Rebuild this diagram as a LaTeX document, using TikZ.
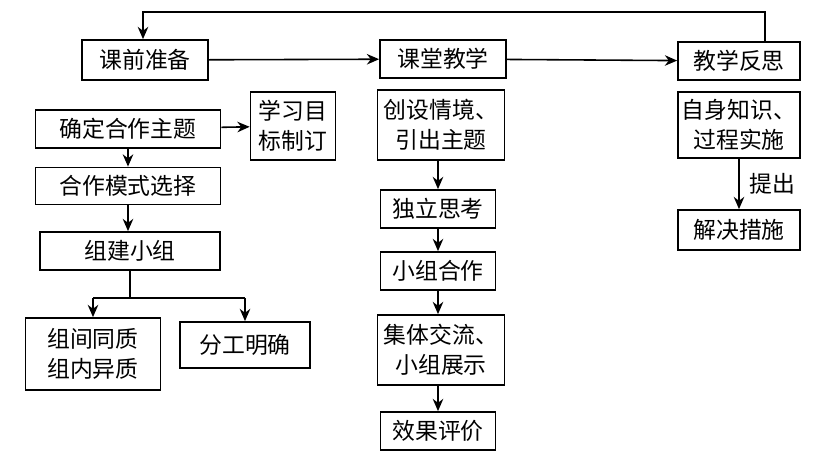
\documentclass[tikz,border=0pt]{standalone}
\usepackage{fontspec}
\newfontfamily\cjk{Noto Sans CJK SC}
\usetikzlibrary{arrows.meta}
\begin{document}
\begin{tikzpicture}[x=0.02cm,y=-0.02cm,
  box/.style={draw,line width=1pt,inner sep=0pt,font=\cjk\fontsize{13}{17}\selectfont,align=center},
  arr/.style={line width=0.9pt,-{Stealth[length=7pt,width=6pt]}},
  ln/.style={line width=0.9pt}]
\useasboundingbox (0,0) rectangle (822,468);
\node[box,minimum width=2.52cm,minimum height=0.8cm] (kq) at (145,60) {课前准备};
\node[box,minimum width=2.52cm,minimum height=0.76cm] (kt) at (443,59) {课堂教学};
\node[box,minimum width=2.44cm,minimum height=0.76cm] (fs) at (739,61) {教学反思};
\node[box,minimum width=3.7cm,minimum height=0.76cm] (qd) at (128,129) {确定合作主题};
\node[box,minimum width=1.7cm,minimum height=1.36cm] (mb) at (293,126) {学习目\\标制订};
\node[box,minimum width=3.7cm,minimum height=0.74cm] (ms) at (128,186) {合作模式选择};
\node[box,minimum width=3.6cm,minimum height=0.76cm] (zj) at (130,251) {组建小组};
\node[box,minimum width=2.7cm,minimum height=1.44cm] (zg) at (93,354) {组间同质\\组内异质};
\node[box,minimum width=2.6cm,minimum height=0.92cm] (fg) at (245,345) {分工明确};
\node[box,minimum width=2.54cm,minimum height=1.4cm] (cs) at (441,125) {创设情境、\\引出主题};
\node[box,minimum width=2.3cm,minimum height=0.76cm] (dl) at (438,209) {独立思考};
\node[box,minimum width=2.3cm,minimum height=0.76cm] (xz) at (438,271) {小组合作};
\node[box,minimum width=2.54cm,minimum height=1.4cm] (jt) at (441,350) {集体交流、\\小组展示};
\node[box,minimum width=2.3cm,minimum height=0.76cm] (xg) at (438,431) {效果评价};
\node[box,minimum width=2.44cm,minimum height=1.32cm] (zs) at (739,125) {自身知识、\\过程实施};
\node[box,minimum width=2.44cm,minimum height=0.8cm] (js) at (739,230) {解决措施};
\coordinate (t1) at (765,12); \coordinate (t2) at (143,12);
\draw[arr] (fs.north -| t1) -- (t1) -- (t2) -- (kq.north -| t2);
\draw[arr] (kq) -- (kt);
\draw[arr] (kt) -- (fs);
\draw[arr] (qd) -- (mb);
\draw[arr] (qd.south -| 128,0) -- (ms.north -| 128,0);
\draw[arr] (ms.south -| 128,0) -- (zj.north -| 128,0);
\coordinate (b) at (130,298);
\draw[ln] (zj.south -| b) -- (b);
\draw[arr] (b -| zg) -- (zg.north);
\draw[arr] (b -| fg) -- (fg.north);
\draw[ln] (b -| zg) -- (b -| fg);
\draw[arr] (cs.south -| 438,0) -- (dl.north);
\draw[arr] (dl) -- (xz);
\draw[arr] (xz.south) -- (jt.north -| 438,0);
\draw[arr] (jt.south -| 438,0) -- (xg.north);
\draw[arr] (zs.south -| 739,0) -- node[right,xshift=2pt,font=\cjk\fontsize{13}{17}\selectfont]{提出} (js.north);
\end{tikzpicture}
\end{document}
